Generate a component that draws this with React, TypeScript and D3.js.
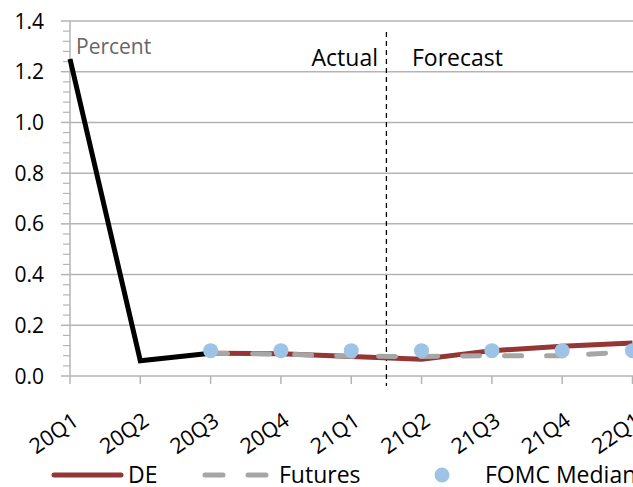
import React from "react";
import * as d3 from "d3";

const categories = ["20Q1", "20Q2", "20Q3", "20Q4", "21Q1", "21Q2", "21Q3", "21Q4", "22Q1"];
const actualValues: (number | null)[] = [1.25, 0.06, 0.09, null, null, null, null, null, null];
const deValues: (number | null)[] = [null, null, 0.09, 0.088, 0.077, 0.066, 0.1, 0.117, 0.13];
const futuresValues: (number | null)[] = [null, null, 0.09, 0.086, 0.078, 0.077, 0.08, 0.08, 0.096];
const fomcValues: (number | null)[] = [null, null, 0.1, 0.1, 0.1, 0.1, 0.1, 0.1, 0.1];
const yTicks = [0, 0.2, 0.4, 0.6, 0.8, 1.0, 1.2, 1.4];

const W = 633;
const H = 487;
const FONT = "'Open Sans', sans-serif";

export default function App() {
  const x = d3.scalePoint<string>().domain(categories).range([70, 632.5]);
  const y = d3.scaleLinear().domain([0, 1.4]).range([376, 21]);
  const minorTicks = d3.range(0, 1.4001, 0.04).filter((v) => Math.abs(v / 0.2 - Math.round(v / 0.2)) > 1e-6);

  const mkLine = (vals: (number | null)[]) =>
    d3
      .line<number | null>()
      .defined((d) => d !== null)
      .x((_, i) => x(categories[i]) as number)
      .y((d) => y(d as number))(vals) || "";

  const splitX = ((x("21Q1") as number) + (x("21Q2") as number)) / 2;

  return (
    <svg width={W} height={H} style={{ position: "absolute", left: 0, top: 0 }}>
      <rect width={W} height={H} fill="#fff" />
      {/* gridlines */}
      {yTicks.map((t) => (
        <line key={"g" + t} x1={70} x2={W} y1={y(t)} y2={y(t)} stroke="#b4b4b4" strokeWidth={1.5} />
      ))}
      {/* y axis */}
      <line x1={70} x2={70} y1={y(1.4)} y2={y(0)} stroke="#b4b4b4" strokeWidth={1.5} />
      {yTicks.map((t) => (
        <line key={"mt" + t} x1={61} x2={70} y1={y(t)} y2={y(t)} stroke="#b4b4b4" strokeWidth={1.5} />
      ))}
      {minorTicks.map((t) => (
        <line key={"mi" + t} x1={63} x2={70} y1={y(t)} y2={y(t)} stroke="#b4b4b4" strokeWidth={1.2} />
      ))}
      {yTicks.map((t) => (
        <text key={"yl" + t} x={44} y={y(t)} dy="0.36em" textAnchor="end" fontFamily={FONT} fontSize={21} fill="#000">
          {d3.format(".1f")(t)}
        </text>
      ))}
      {/* x ticks */}
      {categories.map((c) => (
        <line key={"xt" + c} x1={x(c)} x2={x(c)} y1={376} y2={384} stroke="#b4b4b4" strokeWidth={1.5} />
      ))}
      {categories.map((c) => (
        <text
          key={"xl" + c}
          transform={`translate(${(x(c) as number) + 10},${424}) rotate(-35)`}
          textAnchor="end"
          fontFamily={FONT}
          fontSize={21.5}
          fill="#000"
        >
          {c}
        </text>
      ))}
      {/* divider */}
      <line x1={splitX} x2={splitX} y1={32} y2={386} stroke="#000" strokeWidth={1.3} strokeDasharray="5,4" />
      <text x={378} y={66} textAnchor="end" fontFamily={FONT} fontSize={23} fill="#000">Actual</text>
      <text x={412} y={66} fontFamily={FONT} fontSize={23} fill="#000">Forecast</text>
      <text x={76} y={54} fontFamily={FONT} fontSize={21} fill="#666">Percent</text>
      {/* series */}
      <path d={mkLine(actualValues)} fill="none" stroke="#000" strokeWidth={5} strokeLinejoin="miter" />
      <path d={mkLine(deValues)} fill="none" stroke="#943634" strokeWidth={5} strokeLinejoin="round" />
      <path d={mkLine(futuresValues)} fill="none" stroke="#a6a6a6" strokeWidth={5} strokeDasharray="17,25" strokeLinecap="round" />
      {fomcValues.map((v, i) =>
        v === null ? null : <circle key={"d" + i} cx={x(categories[i])} cy={y(v)} r={7.5} fill="#9dc3e6" />
      )}
      {/* legend */}
      <line x1={54} x2={121} y1={475} y2={475} stroke="#943634" strokeWidth={5} strokeLinecap="round" />
      <text x={128} y={475} dy="0.36em" fontFamily={FONT} fontSize={23}>DE</text>
      <line x1={205} x2={266} y1={475} y2={475} stroke="#a6a6a6" strokeWidth={5} strokeLinecap="round" strokeDasharray="18,25" />
      <text x={279} y={475} dy="0.36em" fontFamily={FONT} fontSize={23}>Futures</text>
      <circle cx={442} cy={475} r={7.5} fill="#9dc3e6" />
      <text x={485} y={475} dy="0.36em" fontFamily={FONT} fontSize={23}>FOMC Median</text>
    </svg>
  );
}
